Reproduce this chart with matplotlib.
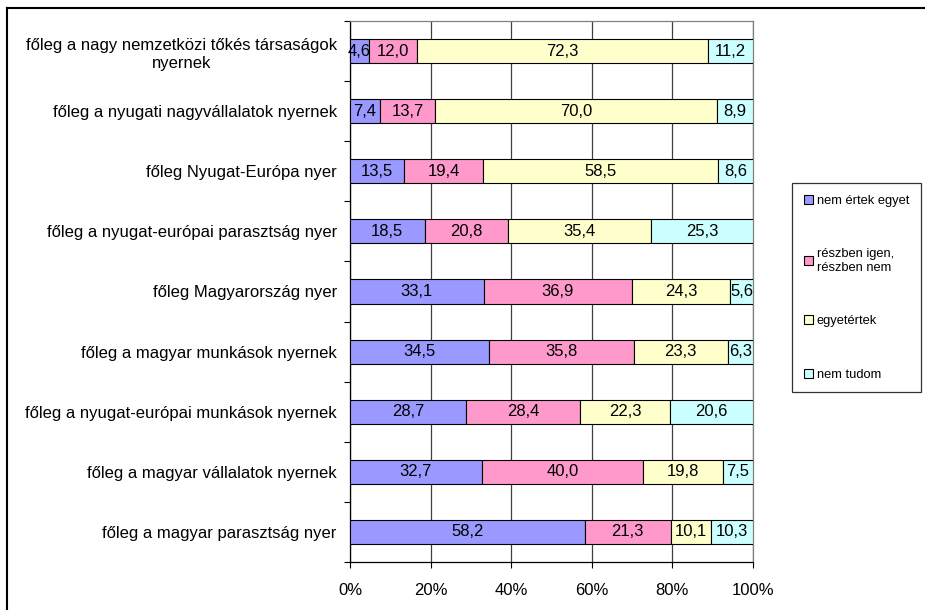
import numpy as np
import matplotlib.pyplot as plt
from matplotlib.lines import Line2D

plt.rcParams['font.family'] = ['Liberation Sans', 'DejaVu Sans']

categories = [
    "főleg a nagy nemzetközi tőkés társaságok\nnyernek",
    "főleg a nyugati nagyvállalatok nyernek",
    "főleg Nyugat-Európa nyer",
    "főleg a nyugat-európai parasztság nyer",
    "főleg Magyarország nyer",
    "főleg a magyar munkások nyernek",
    "főleg a nyugat-európai munkások nyernek",
    "főleg a magyar vállalatok nyernek",
    "főleg a magyar parasztság nyer",
]
series_names = ["nem értek egyet", "részben igen,\nrészben nem", "egyetértek", "nem tudom"]
nem_ertek = [4.6, 7.4, 13.5, 18.5, 33.1, 34.5, 28.7, 32.7, 58.2]
reszben = [12.0, 13.7, 19.4, 20.8, 36.9, 35.8, 28.4, 40.0, 21.3]
egyetertek = [72.3, 70.0, 58.5, 35.4, 24.3, 23.3, 22.3, 19.8, 10.1]
nem_tudom = [11.2, 8.9, 8.6, 25.3, 5.6, 6.3, 20.6, 7.5, 10.3]
colors = ["#9999FF", "#FF99CC", "#FFFFCC", "#CCFFFF"]

data = np.array([nem_ertek, reszben, egyetertek, nem_tudom])
pct = data / data.sum(axis=0) * 100

fig = plt.figure(figsize=(9.25, 6.1), dpi=100)
ax = fig.add_axes([350 / 925, 1 - 562 / 610, 403 / 925, 541 / 610])

y = np.arange(len(categories))
left = np.zeros(len(categories))
handles = []
for i in range(4):
    bars = ax.barh(y, pct[i], left=left, height=0.4, color=colors[i],
                   edgecolor="black", linewidth=0.8, zorder=3, label=series_names[i])
    for yy, l, w, v in zip(y, left, pct[i], data[i]):
        ax.text(l + w / 2, yy, f"{v:.1f}".replace(".", ","), ha="center", va="center",
                fontsize=12, zorder=4)
    handles.append(bars)
    left += pct[i]

ax.set_xlim(0, 100)
ax.set_ylim(len(categories) - 0.5, -0.5)
ax.set_xticks(np.arange(0, 101, 20))
ax.set_xticklabels([f"{v}%" for v in range(0, 101, 20)], fontsize=12)
ax.set_yticks(y)
ax.set_yticklabels(categories, fontsize=12, multialignment="center", linespacing=1.3)
ax.set_yticks(np.arange(-0.5, len(categories), 1), minor=True)
ax.tick_params(axis="y", which="major", length=0, pad=9.5)
ax.tick_params(axis="y", which="minor", length=4, direction="out", width=0.8)
ax.tick_params(axis="x", length=4, direction="out", width=0.8, pad=11)
ax.xaxis.grid(True, color="#404040", linewidth=0.9, zorder=0)
for s in ["top", "right"]:
    ax.spines[s].set_color("#808080")
    ax.spines[s].set_linewidth(0.9)
for s in ["left", "bottom"]:
    ax.spines[s].set_color("black")
    ax.spines[s].set_linewidth(0.9)

leg = fig.legend(handles=handles, loc="upper left", bbox_to_anchor=(792 / 925, 1 - 183 / 610),
                 fontsize=9.3, frameon=True, fancybox=False, edgecolor="black",
                 handlelength=0.7, handleheight=0.7, handletextpad=0.3,
                 labelspacing=3.2, borderpad=0.9, borderaxespad=0)
leg.get_frame().set_linewidth(0.9)

fig.add_artist(Line2D([7 / 925, 1], [1 - 8 / 610, 1 - 8 / 610], color="black", lw=1.5,
                      transform=fig.transFigure))
fig.add_artist(Line2D([7 / 925, 7 / 925], [0, 1 - 8 / 610], color="black", lw=1.5,
                      transform=fig.transFigure))

fig.savefig("out.png", dpi=100)
